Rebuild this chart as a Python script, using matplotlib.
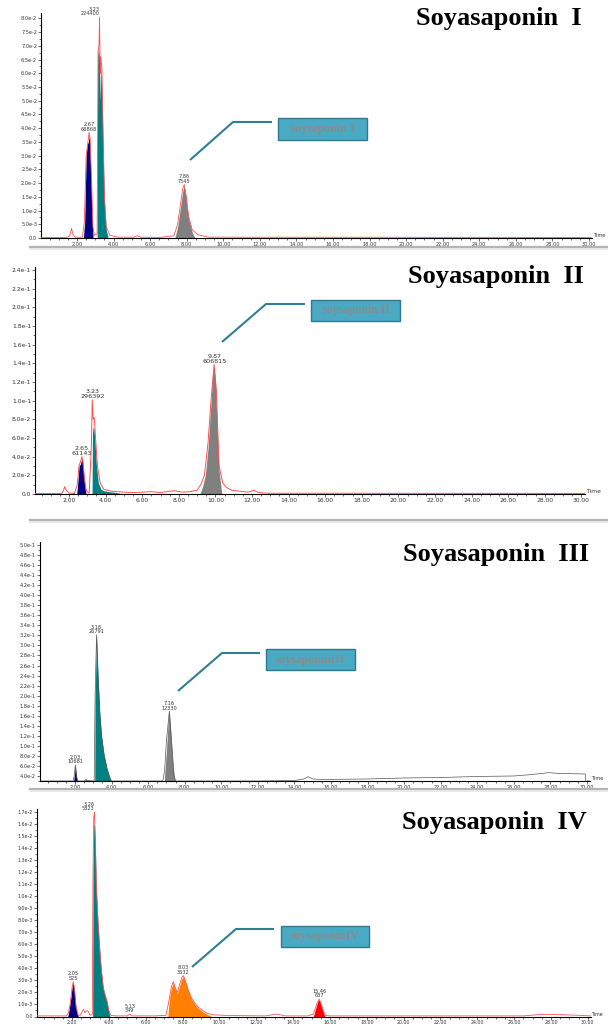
import matplotlib

matplotlib.use("Agg")
import matplotlib.pyplot as plt
from matplotlib.patches import Rectangle
from matplotlib.ticker import FixedLocator, MultipleLocator

W, H = 608, 1026

# ---- data: (time min, intensity) ----
p1_trace = [(0.03, 0.0002), (1.45, 0.0002), (1.6, 0.0008), (1.7, 0.0035), (1.78, 0.0012),
            (1.9, 0.0003), (2.3, 0.0003), (2.4, 0.006), (2.5, 0.030), (2.58, 0.034),
            (2.66, 0.0385), (2.72, 0.036), (2.8, 0.020), (2.87, 0.004), (2.95, 0.001),
            (3.1, 0.0015), (3.15, 0.068), (3.2, 0.070), (3.23, 0.0805), (3.27, 0.060),
            (3.3, 0.066), (3.36, 0.062), (3.42, 0.040), (3.5, 0.015), (3.6, 0.004),
            (3.8, 0.001), (4.2, 0.0003), (5.1, 0.0003), (5.3, 0.0008), (5.5, 0.0003),
            (6.5, 0.0002), (7.3, 0.0008), (7.5, 0.005), (7.65, 0.012), (7.78, 0.018),
            (7.86, 0.0195), (7.95, 0.016), (8.1, 0.008), (8.3, 0.003), (8.6, 0.0012),
            (9.2, 0.0003), (30.1, 0.0002)]
p1_navy = [(2.35, 0), (2.42, 0.006), (2.5, 0.030), (2.56, 0.034), (2.62, 0.035),
           (2.66, 0.0375), (2.7, 0.034), (2.76, 0.022), (2.82, 0.008), (2.88, 0)]
p1_teal = [(3.1, 0), (3.13, 0.066), (3.17, 0.070), (3.22, 0.066), (3.27, 0.050),
           (3.32, 0.064), (3.38, 0.048), (3.45, 0.025), (3.52, 0.010), (3.6, 0.003), (3.7, 0)]
p1_gray = [(7.35, 0), (7.5, 0.004), (7.65, 0.011), (7.78, 0.017), (7.86, 0.019),
           (7.95, 0.0155), (8.1, 0.007), (8.3, 0.002), (8.45, 0)]
p1_labels = [(3.23, 0.0805, "3.23\n224400", "right"), (2.66, 0.0385, "2.67\n66868", "center"),
             (7.86, 0.0195, "7.86\n7545", "center")]
p1_yticks = [0, 0.005, 0.01, 0.015, 0.02, 0.025, 0.03, 0.035, 0.04, 0.045, 0.05, 0.055,
             0.06, 0.065, 0.07, 0.075, 0.08]
p1_ylabels = ["0.0", "5.0e-3", "1.0e-2", "1.5e-2", "2.0e-2", "2.5e-2", "3.0e-2", "3.5e-2",
              "4.0e-2", "4.5e-2", "5.0e-2", "5.5e-2", "6.0e-2", "6.5e-2", "7.0e-2", "7.5e-2",
              "8.0e-2"]

p2_trace = [(0.14, 0.0005), (1.6, 0.0005), (1.7, 0.004), (1.76, 0.0078), (1.85, 0.004),
            (2.0, 0.001), (2.3, 0.0005), (2.45, 0.010), (2.55, 0.031), (2.62, 0.034),
            (2.7, 0.040), (2.75, 0.036), (2.85, 0.015), (2.95, 0.003), (3.1, 0.001),
            (3.22, 0.050), (3.27, 0.101), (3.32, 0.080), (3.38, 0.082), (3.45, 0.060),
            (3.55, 0.030), (3.7, 0.012), (3.9, 0.005), (4.3, 0.003), (5.0, 0.002),
            (5.5, 0.0015), (6.0, 0.002), (6.5, 0.0025), (7.0, 0.0015), (7.5, 0.003),
            (7.8, 0.0035), (8.2, 0.002), (8.6, 0.0025), (9.0, 0.004), (9.2, 0.010),
            (9.4, 0.020), (9.6, 0.055), (9.75, 0.098), (9.93, 0.139), (10.05, 0.112),
            (10.2, 0.030), (10.4, 0.012), (10.6, 0.007), (10.9, 0.004), (11.3, 0.003),
            (11.8, 0.002), (12.1, 0.004), (12.3, 0.002), (12.6, 0.001), (13.0, 0.0008),
            (30.2, 0.0006)]
p2_navy = [(2.42, 0), (2.48, 0.012), (2.55, 0.030), (2.62, 0.032), (2.7, 0.038),
           (2.74, 0.036), (2.8, 0.022), (2.88, 0.006), (2.93, 0)]
p2_teal = [(3.26, 0), (3.28, 0.065), (3.32, 0.072), (3.36, 0.070), (3.42, 0.055),
           (3.5, 0.030), (3.6, 0.012), (3.75, 0.005), (3.9, 0.0035), (4.2, 0.0025),
           (4.6, 0.0015), (5.0, 0)]
p2_gray = [(9.16, 0), (9.3, 0.008), (9.45, 0.02), (9.6, 0.05), (9.75, 0.095),
           (9.85, 0.128), (9.93, 0.137), (10.0, 0.12), (10.1, 0.07), (10.2, 0.025), (10.35, 0)]
p2_labels = [(2.68, 0.040, "2.65\n61143", "center"), (3.27, 0.101, "3.23\n296392", "center"),
             (9.93, 0.139, "9.87\n606815", "center")]
p2_yticks = [0, 0.02, 0.04, 0.06, 0.08, 0.10, 0.12, 0.14, 0.16, 0.18, 0.20, 0.22, 0.24]
p2_ylabels = ["0.0", "2.0e-2", "4.0e-2", "6.0e-2", "8.0e-2", "1.0e-1", "1.2e-1", "1.4e-1",
              "1.6e-1", "1.8e-1", "2.0e-1", "2.2e-1", "2.4e-1"]

p3_trace = [(0.06, 0.030), (1.9, 0.030), (1.96, 0.040), (2.02, 0.062), (2.08, 0.040),
            (2.14, 0.030), (2.5, 0.030), (2.57, 0.031), (2.6, 0.034), (2.64, 0.031),
            (3.05, 0.030), (3.1, 0.20), (3.18, 0.321), (3.25, 0.25), (3.35, 0.17),
            (3.45, 0.12), (3.6, 0.08), (3.75, 0.055), (3.9, 0.037), (4.0, 0.030),
            (6.8, 0.030), (6.9, 0.050), (7.0, 0.110), (7.16, 0.169), (7.3, 0.100),
            (7.42, 0.040), (7.5, 0.030), (12.0, 0.030), (14.0, 0.031), (14.5, 0.034),
            (14.75, 0.0386), (15.0, 0.034), (15.5, 0.033), (18.0, 0.034), (20.0, 0.036),
            (22.0, 0.037), (24.0, 0.039), (26.0, 0.040), (27.0, 0.043), (27.9, 0.0466),
            (28.5, 0.045), (29.9, 0.044), (29.92, 0.030), (30.16, 0.030)]
p3_navy = [(1.93, 0.030), (1.98, 0.045), (2.02, 0.062), (2.06, 0.045), (2.12, 0.030)]
p3_teal = [(3.08, 0.030), (3.1, 0.20), (3.18, 0.321), (3.25, 0.25), (3.35, 0.17),
           (3.45, 0.12), (3.6, 0.08), (3.75, 0.055), (3.9, 0.037), (3.98, 0.030)]
p3_teal_dot = [(2.56, 0.030), (2.6, 0.034), (2.64, 0.030)]
p3_gray = [(6.88, 0.030), (7.0, 0.09), (7.1, 0.15), (7.16, 0.169), (7.25, 0.12),
           (7.35, 0.06), (7.47, 0.030)]
p3_labels = [(2.02, 0.062, "2.03\n10681", "center"), (3.18, 0.321, "3.18\n26791", "center"),
             (7.16, 0.169, "7.16\n12330", "center")]
p3_yticks = [0.04, 0.06, 0.08, 0.10, 0.12, 0.14, 0.16, 0.18, 0.20, 0.22, 0.24, 0.26, 0.28,
             0.30, 0.32, 0.34, 0.36, 0.38, 0.40, 0.42, 0.44, 0.46, 0.48, 0.50]
p3_ylabels = ["4.0e-2", "6.0e-2", "8.0e-2", "1.0e-1", "1.2e-1", "1.4e-1", "1.6e-1", "1.8e-1",
              "2.0e-1", "2.2e-1", "2.4e-1", "2.6e-1", "2.8e-1", "3.0e-1", "3.2e-1", "3.4e-1",
              "3.6e-1", "3.8e-1", "4.0e-1", "4.2e-1", "4.4e-1", "4.6e-1", "4.8e-1", "5.0e-1"]

p4_trace = [(0.1, 0.00005), (1.7, 0.00005), (1.8, 0.0003), (1.9, 0.001), (2.0, 0.0024),
            (2.07, 0.0029), (2.14, 0.0022), (2.22, 0.0008), (2.34, 0.0001), (2.45, 0.0001),
            (2.55, 0.0004), (2.62, 0.0006), (2.7, 0.0003), (2.8, 0.0005), (2.89, 0.0004),
            (2.98, 0.0001), (3.1, 0.0002), (3.14, 0.012), (3.18, 0.0165), (3.22, 0.0170),
            (3.27, 0.0145), (3.32, 0.011), (3.4, 0.0083), (3.5, 0.0058), (3.6, 0.0038),
            (3.7, 0.0024), (3.8, 0.0018), (3.9, 0.0013), (4.0, 0.0005), (4.1, 0.0001),
            (4.4, 0.00005), (5.0, 0.00005), (5.13, 0.0002), (5.25, 0.00005), (6.5, 0.00005),
            (7.1, 0.0001), (7.25, 0.0012), (7.4, 0.0025), (7.5, 0.0029), (7.6, 0.0024),
            (7.72, 0.0020), (7.85, 0.0027), (7.95, 0.0032), (8.04, 0.0034), (8.15, 0.0030),
            (8.31, 0.0022), (8.5, 0.0015), (8.77, 0.0009), (9.0, 0.0006), (9.31, 0.0003),
            (9.6, 0.00015), (10.5, 0.00008), (12.5, 0.00005), (13.1, 0.0002), (13.6, 0.00005),
            (14.8, 0.00005), (15.1, 0.0002), (15.3, 0.0011), (15.42, 0.00145), (15.55, 0.0009),
            (15.73, 0.0001), (16.0, 0.00005), (26.5, 0.00005), (27.5, 0.00018), (28.5, 0.00015),
            (29.5, 0.0001), (30.17, 0.00005)]
p4_navy = [(1.77, 0), (1.85, 0.0006), (1.95, 0.0017), (2.02, 0.0026), (2.07, 0.0028),
           (2.13, 0.0021), (2.2, 0.0009), (2.28, 0.0002), (2.34, 0)]
p4_teal = [(3.12, 0), (3.14, 0.0115), (3.18, 0.0158), (3.22, 0.0160), (3.27, 0.0140),
           (3.32, 0.0105), (3.4, 0.0080), (3.5, 0.0055), (3.6, 0.0036), (3.7, 0.0023),
           (3.8, 0.0017), (3.9, 0.0012), (4.0, 0.0004), (4.06, 0)]
p4_orange = [(7.2, 0), (7.3, 0.0016), (7.4, 0.0024), (7.5, 0.0028), (7.6, 0.0023),
             (7.72, 0.0019), (7.85, 0.0026), (7.95, 0.0031), (8.04, 0.0033), (8.15, 0.0029),
             (8.31, 0.0021), (8.5, 0.0014), (8.77, 0.0008), (9.0, 0.0005), (9.31, 0.0002),
             (9.58, 0)]
p4_red = [(15.1, 0), (15.25, 0.0008), (15.35, 0.0013), (15.42, 0.0014), (15.5, 0.0011),
          (15.6, 0.0005), (15.73, 0)]
p4_labels = [(2.07, 0.0029, "2.05\n525", "center"), (3.22, 0.0170, "3.26\n5823", "right"),
             (5.13, 0.0002, "5.13\n349", "center"), (8.04, 0.0034, "8.03\n3632", "center"),
             (15.42, 0.00145, "15.46\n637", "center")]
p4_yticks = [0, 0.001, 0.002, 0.003, 0.004, 0.005, 0.006, 0.007, 0.008, 0.009, 0.010,
             0.011, 0.012, 0.013, 0.014, 0.015, 0.016, 0.017]
p4_ylabels = ["0.0", "1.0e-3", "2.0e-3", "3.0e-3", "4.0e-3", "5.0e-3", "6.0e-3", "7.0e-3",
              "8.0e-3", "9.0e-3", "1.0e-2", "1.1e-2", "1.2e-2", "1.3e-2", "1.4e-2", "1.5e-2",
              "1.6e-2", "1.7e-2"]

titles = ["Soyasaponin  I", "Soyasaponin  II", "Soyasaponin  III", "Soyasaponin  IV"]
box_texts = ["soysaponin I", "soysaponin II", "soysaponinIII", "soysaponinIV"]

NAVY, TEAL, GRAY, ORANGE, RED = "#000080", "#008080", "#808080", "#ff8000", "#ff0000"


def px_axes(fig, left, right, top, bottom):
    return fig.add_axes([left / W, 1 - bottom / H, (right - left) / W, (bottom - top) / H])


def fill(ax, pts, color):
    t, y = zip(*pts)
    ax.fill_between(t, y, y[0], color=color, lw=0, zorder=2)


def style(ax, xlim, ylim, yticks, ylabels, fs, minor_y):
    ax.set_xlim(*xlim)
    ax.set_ylim(*ylim)
    for s in ("top", "right"):
        ax.spines[s].set_visible(False)
    for s in ("left", "bottom"):
        ax.spines[s].set_linewidth(0.8)
    ax.set_xticks(range(2, 31, 2))
    ax.set_xticklabels([f"{v:.2f}" for v in range(2, 31, 2)])
    ax.xaxis.set_minor_locator(MultipleLocator(0.5))
    ax.yaxis.set_major_locator(FixedLocator(yticks))
    ax.set_yticklabels(ylabels)
    ax.yaxis.set_minor_locator(MultipleLocator(minor_y))
    ax.tick_params(which="major", length=2, width=0.5, pad=0.8, labelsize=fs, colors="#333333")
    ax.tick_params(which="minor", length=1.2, width=0.4)
    ax.patch.set_alpha(0)
    ax.text(1.002, 0.0, "Time", transform=ax.transAxes, fontsize=fs, color="#333333",
            ha="left", va="bottom")


def labels(ax, items, fs):
    for t, y, s, ha in items:
        ax.annotate(s, (t, y), xytext=(0, 0.5), textcoords="offset points", ha=ha, va="bottom",
                    fontsize=fs, color="#333333", linespacing=0.9)


fig = plt.figure(figsize=(W / 100, H / 100), dpi=100)

# --- Panel 1 ---
ax = px_axes(fig, 41, 592, 13.5, 238)
fill(ax, p1_navy, NAVY)
fill(ax, p1_teal, TEAL)
fill(ax, p1_gray, GRAY)
t, y = zip(*p1_trace)
ax.plot(t, y, color="#ff5050", lw=0.6, zorder=3)
style(ax, (0.03, 30.16), (0, 0.0818), p1_yticks, p1_ylabels, 3.6, 0.0025)
labels(ax, p1_labels, 3.6)

# --- Panel 2 ---
ax = px_axes(fig, 35, 585, 267, 494)
fill(ax, p2_navy, NAVY)
fill(ax, p2_teal, TEAL)
fill(ax, p2_gray, GRAY)
t, y = zip(*p2_trace)
ax.plot(t, y, color="#ff5050", lw=0.7, zorder=3)
style(ax, (0.14, 30.2), (0, 0.2432), p2_yticks, p2_ylabels, 4.3, 0.01)
labels(ax, p2_labels, 4.6)

# --- Panel 3 ---
ax = px_axes(fig, 39.5, 590, 542, 781)
fill(ax, p3_navy, NAVY)
fill(ax, p3_teal, TEAL)
fill(ax, p3_teal_dot, TEAL)
fill(ax, p3_gray, GRAY)
t, y = zip(*p3_trace)
ax.plot(t, y, color="#555555", lw=0.5, zorder=3)
style(ax, (0.06, 30.16), (0.030, 0.506), p3_yticks, p3_ylabels, 3.6, 0.01)
labels(ax, p3_labels, 3.6)

# --- Panel 4 ---
ax = px_axes(fig, 37, 591, 809, 1016.5)
fill(ax, p4_navy, NAVY)
fill(ax, p4_teal, TEAL)
fill(ax, p4_orange, ORANGE)
fill(ax, p4_red, RED)
t, y = zip(*p4_trace)
ax.plot(t, y, color="#ff5050", lw=0.6, zorder=3)
style(ax, (0.1, 30.17), (0, 0.01725), p4_yticks, p4_ylabels, 3.4, 0.0005)
ax.tick_params(axis="x", which="major", pad=0.3)
labels(ax, p4_labels, 3.6)

# --- overlay: titles, callouts, panel separators (pixel coords) ---
ov = fig.add_axes([0, 0, 1, 1], zorder=10)
ov.set_xlim(0, W)
ov.set_ylim(H, 0)
ov.axis("off")
ov.patch.set_alpha(0)

title_pos = [(582, 18), (584, 277), (589, 554), (587, 822)]
for (x, y), s in zip(title_pos, titles):
    ov.text(x, y, s, ha="right", va="center", fontsize=19, fontweight="bold",
            family="Liberation Serif", color="black")

callouts = [
    ([190, 233, 272], [160, 122, 122], (278, 118, 367, 140)),
    ([222, 266, 305], [342, 304, 304], (311, 300, 400, 321)),
    ([178, 222, 260], [691, 653, 653], (266, 649, 355, 670)),
    ([192, 236, 274], [967, 929, 929], (281, 926, 369, 947)),
]
for (lx, ly, (x0, y0, x1, y1)), s in zip(callouts, box_texts):
    ov.plot(lx, ly, color="#2f7f93", lw=1.5, solid_capstyle="butt")
    ov.add_patch(Rectangle((x0, y0), x1 - x0, y1 - y0, facecolor="#4aaac4",
                           edgecolor="#2c7a90", lw=1.0))
    ov.text((x0 + x1) / 2, (y0 + y1) / 2, s, ha="center", va="center", fontsize=8.5,
            family="Liberation Serif", fontweight="bold", color="#8a8a8a")

for y in (247, 520, 789):
    ov.plot([30, 608], [y, y], color="#b4b4b4", lw=1.6)
    ov.plot([30, 608], [y + 2, y + 2], color="#e4e4e4", lw=1.2)

fig.savefig("out.png", dpi=100)
